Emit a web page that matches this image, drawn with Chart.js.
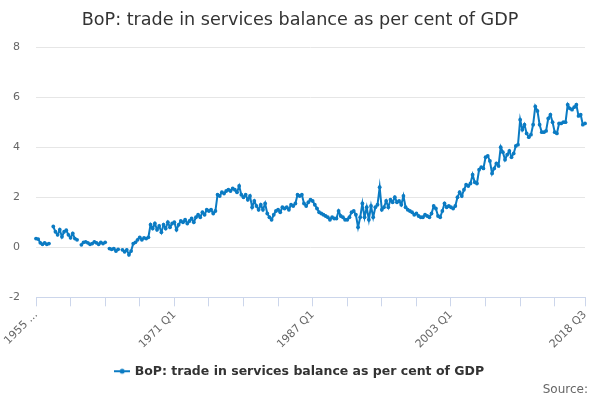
<!DOCTYPE html>
<html>
<head>
<meta charset="utf-8">
<title>BoP: trade in services balance as per cent of GDP</title>
<script src="https://cdn.jsdelivr.net/npm/chart.js@4"></script>
<style>
    html, body { margin: 0; padding: 0; background: #fff; }
    #wrap { width: 600px; height: 400px; position: relative; }
</style>
</head>
<body>
<div id="wrap"><canvas id="bopGrafik"></canvas></div>
<script>
// Quarterly series, 1955 Q1 to 2018 Q3 (null = no figure published)
const firstYear = 1955;
const bopValues = [
    0.35, 0.33, 0.18, 0.12,   // 1955
    0.18, 0.12, 0.15, null,   // 1956
    0.83, 0.62, 0.5, 0.7,     // 1957
    0.42, 0.62, 0.68, 0.5,    // 1958
    0.38, 0.55, 0.35, 0.3,    // 1959
    null, 0.1, 0.2, 0.22,     // 1960
    0.18, 0.12, 0.15, 0.22,   // 1961
    0.18, 0.12, 0.2, 0.15,    // 1962
    0.2, null, -0.05, -0.08,  // 1963
    -0.05, -0.15, -0.08, null,// 1964
    -0.1, -0.18, -0.1, -0.3,  // 1965
    -0.15, 0.15, 0.2, 0.3,    // 1966
    0.4, 0.3, 0.38, 0.35,     // 1967
    0.4, 0.9, 0.75, 0.95,     // 1968
    0.7, 0.85, 0.6, 0.9,      // 1969
    0.75, 1.0, 0.8, 0.95,     // 1970
    1.0, 0.7, 0.9, 1.05,      // 1971
    1.0, 1.1, 0.95, 1.05,     // 1972
    1.15, 1.0, 1.2, 1.3,      // 1973
    1.2, 1.4, 1.3, 1.5,       // 1974
    1.45, 1.5, 1.35, 1.45,    // 1975
    2.1, 2.05, 2.2, 2.15,     // 1976
    2.25, 2.3, 2.25, 2.35,    // 1977
    2.3, 2.2, 2.45, 2.1,      // 1978
    2.0, 2.1, 1.9, 2.05,      // 1979
    1.6, 1.85, 1.65, 1.5,     // 1980
    1.7, 1.5, 1.75, 1.35,     // 1981
    1.2, 1.1, 1.3, 1.45,      // 1982
    1.5, 1.4, 1.6, 1.55,      // 1983
    1.6, 1.5, 1.7, 1.65,      // 1984
    1.75, 2.1, 2.05, 2.1,     // 1985
    1.75, 1.65, 1.8, 1.9,     // 1986
    1.85, 1.7, 1.55, 1.4,     // 1987
    1.35, 1.3, 1.25, 1.2,     // 1988
    1.1, 1.2, 1.15, 1.15,     // 1989
    1.45, 1.25, 1.2, 1.1,     // 1990
    1.1, 1.2, 1.4, 1.45,      // 1991
    1.3, 0.8, 1.2, 1.75,      // 1992
    1.2, 1.6, 1.1, 1.65,      // 1993
    1.2, 1.6, 1.7, 2.4,       // 1994
    1.5, 1.6, 1.85, 1.6,      // 1995
    1.9, 1.8, 2.0, 1.8,       // 1996
    1.85, 1.7, 2.05, 1.6,     // 1997
    1.5, 1.45, 1.4, 1.3,      // 1998
    1.35, 1.25, 1.2, 1.2,     // 1999
    1.3, 1.25, 1.2, 1.35,     // 2000
    1.65, 1.55, 1.25, 1.2,    // 2001
    1.45, 1.75, 1.6, 1.65,    // 2002
    1.6, 1.55, 1.65, 2.0,     // 2003
    2.2, 2.05, 2.3, 2.5,      // 2004
    2.45, 2.55, 2.9, 2.6,     // 2005
    2.55, 3.1, 3.2, 3.15,     // 2006
    3.6, 3.65, 3.45, 2.95,    // 2007
    3.15, 3.35, 3.25, 4.0,    // 2008
    3.8, 3.5, 3.7, 3.85,      // 2009
    3.6, 3.75, 4.05, 4.1,     // 2010
    5.1, 4.7, 4.9, 4.55,      // 2011
    4.4, 4.5, 4.9, 5.63,      // 2012
    5.45, 4.9, 4.6, 4.6,      // 2013
    4.65, 5.15, 5.3, 5.0,     // 2014
    4.6, 4.55, 4.95, 4.95,    // 2015
    5.0, 5.0, 5.7, 5.55,      // 2016
    5.5, 5.6, 5.7, 5.25,      // 2017
    5.3, 4.9, 4.95            // 2018
];
const yTicks = [-2, 0, 2, 4, 6, 8];
const shownXLabels = { 0: '1955 ...', 64: '1971 Q1', 128: '1987 Q1', 192: '2003 Q1' };
const sourceText = 'Source:';

const quarterLabels = [];
for (let i = 0; i < bopValues.length; i++) {
    quarterLabels.push(`${firstYear + Math.floor(i / 4)} Q${(i % 4) + 1}`);
}
const lastIndex = quarterLabels.length - 1;

const lineColor = '#0b7bc3';
const axisColor = '#ccd6eb';

// legend symbol: short line with a dot, like the original
const legendIcon = document.createElement('canvas');
legendIcon.width = 16;
legendIcon.height = 8;
(() => {
    const c = legendIcon.getContext('2d');
    c.strokeStyle = lineColor;
    c.lineWidth = 2;
    c.beginPath();
    c.moveTo(0, 4);
    c.lineTo(16, 4);
    c.stroke();
    c.fillStyle = lineColor;
    c.beginPath();
    c.arc(8, 4, 2.5, 0, Math.PI * 2);
    c.fill();
})();

// "Source:" credit bottom right
const sourcePlugin = {
    id: 'sourceCredit',
    afterDraw(chart) {
        const c = chart.ctx;
        c.save();
        c.font = "12px 'DejaVu Sans', sans-serif";
        c.fillStyle = '#666';
        c.textAlign = 'right';
        c.textBaseline = 'middle';
        c.fillText(sourceText, 588, 390);
        c.restore();
    },
};

Chart.defaults.font.family = "'DejaVu Sans', sans-serif";
Chart.defaults.color = '#666';

const ctx = document.getElementById('bopGrafik').getContext('2d');
new Chart(ctx, {
    type: 'line',
    data: {
        labels: quarterLabels,
        datasets: [{
            label: 'BoP: trade in services balance as per cent of GDP',
            data: bopValues,
            borderColor: lineColor,
            backgroundColor: lineColor,
            borderWidth: 2,
            pointRadius: 1.9,
            pointHoverRadius: 3,
            pointBorderWidth: 0,
            spanGaps: false,
            fill: false,
        }],
    },
    plugins: [sourcePlugin],
    options: {
        responsive: true,
        maintainAspectRatio: false,
        animation: false,
        layout: { padding: { left: 0, right: 0, top: 0, bottom: 12.5 } },
        scales: {
            x: {
                offset: false,
                grid: {
                    drawOnChartArea: false,
                    tickLength: 9,
                    tickColor: axisColor,
                },
                border: { display: true, color: axisColor, width: 1 },
                ticks: {
                    autoSkip: false,
                    minRotation: 45,
                    maxRotation: 45,
                    padding: 2,
                    color: '#666',
                    font: { size: 11 },
                    callback: (value, index) => {
                        if (index === lastIndex) return quarterLabels[lastIndex];
                        if (index % 16 === 0) return shownXLabels[index] || '';
                        return null;
                    },
                },
            },
            y: {
                min: -2,
                max: 8,
                afterFit: scale => { scale.width = 36; },
                afterBuildTicks: scale => {
                    scale.ticks = yTicks.map(v => ({ value: v }));
                },
                grid: { color: '#e6e6e6', drawTicks: false },
                border: { display: false },
                ticks: {
                    padding: 16,
                    color: '#666',
                    font: { size: 11 },
                },
            },
            // empty right-hand axis, only keeps a margin so the title stays centred
            yRight: {
                position: 'right',
                min: -2,
                max: 8,
                afterFit: scale => { scale.width = 15; },
                grid: { display: false },
                border: { display: false },
                ticks: { display: false },
            },
        },
        plugins: {
            title: {
                display: true,
                text: 'BoP: trade in services balance as per cent of GDP',
                color: '#333',
                font: { size: 17.6, weight: 'normal' },
                padding: { top: 10, bottom: 16 },
            },
            legend: {
                position: 'bottom',
                labels: {
                    usePointStyle: true,
                    pointStyle: legendIcon,
                    color: '#333',
                    font: { size: 12.5, weight: 'bold' },
                    padding: 12,
                },
            },
            tooltip: { enabled: true },
        },
    },
});
</script>
</body>
</html>
